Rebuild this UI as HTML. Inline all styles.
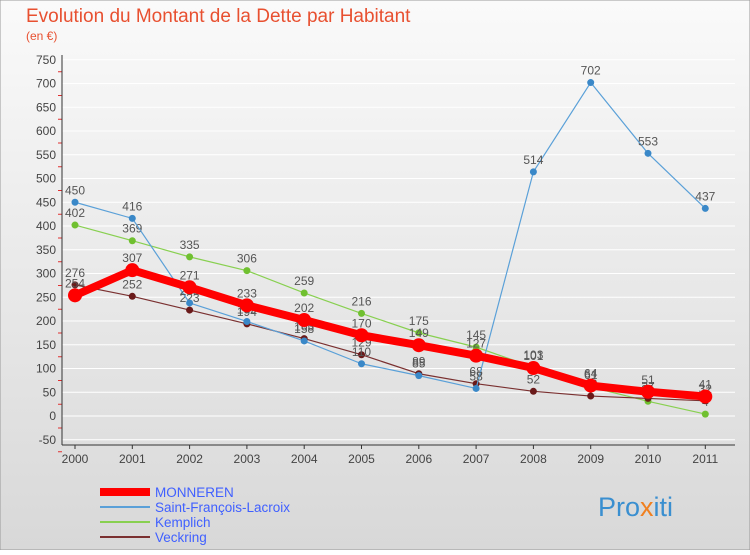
<!DOCTYPE html>
<html><head><meta charset="utf-8"><style>
body{margin:0;background:#fff;font-family:"Liberation Sans",sans-serif}
svg text{font-family:"Liberation Sans",sans-serif}
</style></head><body>
<svg id="c" width="750" height="550">
<defs><linearGradient id="bg" x1="0" y1="0" x2="0" y2="1"><stop offset="0" stop-color="#fafafa"/><stop offset="1" stop-color="#d8d8d8"/></linearGradient></defs>
<rect x="0" y="0" width="750" height="550" fill="url(#bg)" stroke="#999"/>
<text x="26" y="22" font-size="19" fill="#e85030">Evolution du Montant de la Dette par Habitant</text>
<text x="26" y="40" font-size="12" fill="#e85030">(en €)</text>
<g id="plot"></g>
<text x="598" y="516" font-size="27" fill="#3a8fd0">Pro<tspan fill="#f08020">x</tspan>iti</text>
</svg>
<script>
const years=["2000","2001","2002","2003","2004","2005","2006","2007","2008","2009","2010","2011"];
const yTicks=[-50,0,50,100,150,200,250,300,350,400,450,500,550,600,650,700,750];
const monneren=[254,307,271,233,202,170,149,127,101,64,51,41];
const saintFrancois=[450,416,238,199,158,110,85,58,514,702,553,437];
const kemplich=[402,369,335,306,259,216,175,145,103,61,31,4];
const veckring=[276,252,223,194,163,129,89,68,52,42,37,32];
const series=[
 {name:"Kemplich",v:kemplich,c:"#88d050",w:1.2,r:3.5,dot:"#70c030"},
 {name:"Veckring",v:veckring,c:"#7a3030",w:1.2,r:3.5,dot:"#6a1a1a"},
 {name:"Saint-François-Lacroix",v:saintFrancois,c:"#5aa0d8",w:1.2,r:3.5,dot:"#3a88c8"},
 {name:"MONNEREN",v:monneren,c:"#ff0000",w:8,r:7,dot:"#ff0000"}];
const X=i=>75+i*57.3, Y=v=>416-v*0.475;
const g=document.getElementById('plot');const NS="http://www.w3.org/2000/svg";
function mk(t,a,p){const e=document.createElementNS(NS,t);for(const k in a)e.setAttribute(k,a[k]);(p||g).appendChild(e);return e;}
yTicks.forEach(t=>{const l=mk('line',{x1:62,x2:735,y1:Y(t),y2:Y(t),stroke:"#fff","stroke-width":1});

const tx=mk('text',{x:56,y:Y(t)+4,"font-size":12,fill:"#444","text-anchor":"end"});tx.textContent=t;

const tk=mk('line',{x1:58,x2:62,y1:Y(t)+12,y2:Y(t)+12,stroke:"#e03030"});
});
const ax=mk('line',{x1:62,x2:62,y1:55,y2:445,stroke:"#333"});
const bx=mk('line',{x1:62,x2:735,y1:445,y2:445,stroke:"#333"});
years.forEach((y,i)=>{const t=mk('text',{x:X(i),y:463,"font-size":12,fill:"#444","text-anchor":"middle"});t.textContent=y;

const k=mk('line',{x1:X(i),x2:X(i),y1:445,y2:449,stroke:"#333"});});
series.forEach(s=>{const p=mk('polyline',{points:s.v.map((v,i)=>X(i)+","+Y(v)).join(" "),fill:"none",stroke:s.c,"stroke-width":s.w,"stroke-linejoin":"round"});

s.v.forEach((v,i)=>{const d=mk('circle',{cx:X(i),cy:Y(v),r:s.r,fill:s.dot});

const t=mk('text',{x:X(i),y:Y(v)-8,"font-size":12,fill:"#555","text-anchor":"middle"});t.textContent=v;
});});
const leg=[["MONNEREN","#ff0000",8],["Saint-François-Lacroix","#5aa0d8",2],["Kemplich","#88d050",2],["Veckring","#7a3030",2]];
leg.forEach((l,i)=>{const y=492+i*15;const r=mk('line',{x1:100,x2:150,y1:y,y2:y,stroke:l[1],"stroke-width":l[2]},document.getElementById('c'));

const t=mk('text',{x:155,y:y+5,"font-size":13.5,fill:"#4060ff"},document.getElementById('c'));t.textContent=l[0];
});
</script>
</body></html>
